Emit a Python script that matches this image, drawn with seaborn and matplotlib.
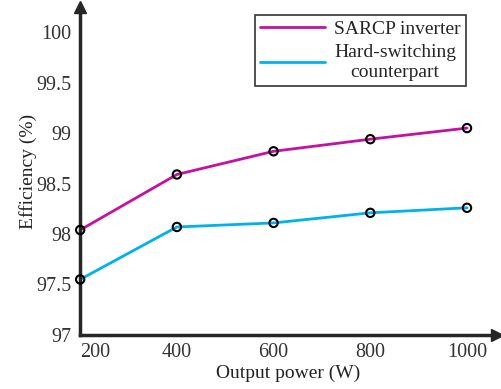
import pandas as pd
import matplotlib
matplotlib.use("Agg")
import matplotlib.pyplot as plt
import seaborn as sns

# data
power = [200, 400, 600, 800, 1000]
sarcp = [98.04, 98.59, 98.82, 98.94, 99.05]
hard = [97.55, 98.07, 98.11, 98.21, 98.26]
series_names = ["SARCP inverter", "Hard-switching\ncounterpart"]
series_colors = ["#C4129E", "#00B2EC"]
x_ticks = [200, 400, 600, 800, 1000]
y_ticks = [97, 97.5, 98, 98.5, 99, 99.5, 100]
y_tick_labels = ["97", "97.5", "98", "98.5", "99", "99.5", "100"]

df = pd.DataFrame({
    "power": power * 2,
    "eff": sarcp + hard,
    "series": [series_names[0]] * 5 + [series_names[1]] * 5,
})

sns.set_style("white")
plt.rcParams["font.family"] = ["Liberation Serif", "DejaVu Serif"]

fig = plt.figure(figsize=(5.01, 3.89), dpi=100)
ax = fig.add_axes([0.16, 0.139, 0.832, 0.843])

sns.lineplot(data=df, x="power", y="eff", hue="series",
             palette=series_colors, linewidth=2, ax=ax)
sns.scatterplot(data=df, x="power", y="eff", ax=ax, s=36, marker="o",
                facecolor="none", edgecolor="black", linewidth=1.5,
                legend=False, zorder=5, clip_on=False)

ax.set_xlim(200, 1062)
ax.set_ylim(97, 100.25)
ax.set_xticks(x_ticks)
ax.set_yticks(y_ticks)
ax.set_yticklabels(y_tick_labels)
for lbl in ax.get_xticklabels()[:1]:
    lbl.set_horizontalalignment("left")

ax.tick_params(direction="in", length=5, width=1.2, colors="#262626",
               labelsize=14.5, labelcolor="#333333")
ax.tick_params(axis="x", pad=6)
ax.tick_params(axis="y", pad=6)
for side in ["top", "right"]:
    ax.spines[side].set_visible(False)
for side in ["left", "bottom"]:
    ax.spines[side].set_linewidth(2.5)
    ax.spines[side].set_color("#262626")

# arrow heads on the axes
ax.plot(1, 0, ">", color="#262626", ms=8, transform=ax.transAxes, clip_on=False)
ax.plot(0, 1, "^", color="#262626", ms=8, transform=ax.transAxes, clip_on=False)

ax.set_xlabel("Output power (W)", fontsize=14, color="#222222", labelpad=2)
ax.set_ylabel("Efficiency (%)", fontsize=14, color="#222222", labelpad=0)

leg = ax.legend(loc="upper right", bbox_to_anchor=(0.925, 0.975), fontsize=14,
                frameon=True, fancybox=False, edgecolor="black", handlelength=3.3,
                borderpad=0.25, labelspacing=0.3, handletextpad=0.5, borderaxespad=0)
leg.get_frame().set_linewidth(1.2)
for t in leg.get_texts():
    t.set_multialignment("center")
    t.set_linespacing(1.3)

plt.savefig("out.png", dpi=100)
